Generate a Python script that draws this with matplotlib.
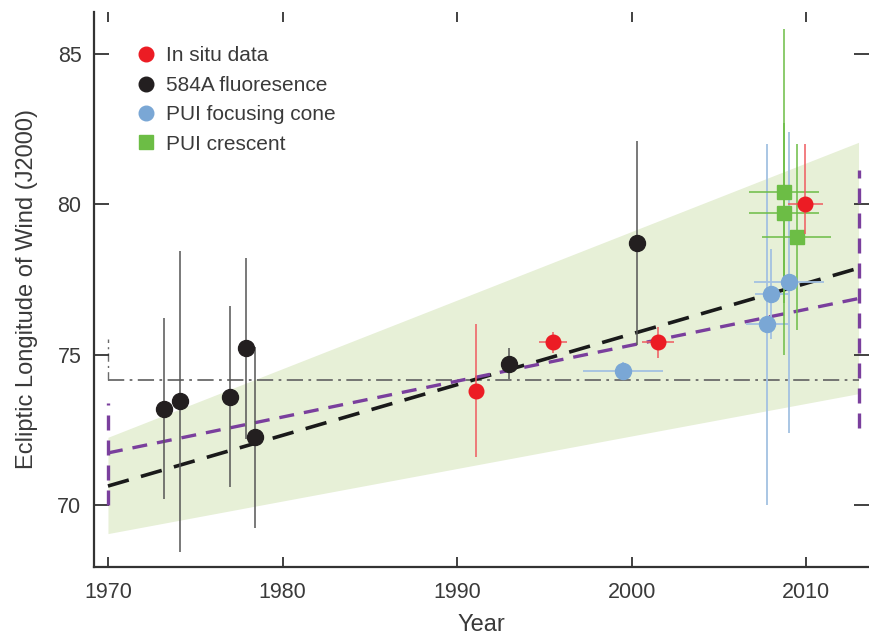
import matplotlib
matplotlib.use("Agg")
import matplotlib.pyplot as plt
from matplotlib.lines import Line2D
import numpy as np

plt.rcParams['font.family'] = ['Liberation Sans', 'DejaVu Sans']

# ---- data ----
# 584A fluorescence (black)
fl_year = [1973.2, 1974.1, 1977.0, 1977.9, 1978.4, 1993.0, 2000.3]
fl_val = [73.2, 73.45, 73.6, 75.2, 72.25, 74.7, 78.7]
fl_err = [3.0, 5.0, 3.0, 3.0, 3.0, 0.5, 3.4]

# In situ data (red)
is_year = [1991.1, 1995.5, 2001.5, 2009.95]
is_val = [73.8, 75.4, 75.4, 80.0]
is_yerr_lo = [2.2, 0.35, 0.5, 1.0]
is_yerr_hi = [2.2, 0.35, 0.5, 2.0]
is_xerr = [0.0, 0.8, 0.9, 1.0]

# PUI focusing cone (blue)
fc_year = [1999.5, 2007.75, 2008.0, 2009.0]
fc_val = [74.45, 76.0, 77.0, 77.4]
fc_yerr = [0.3, 6.0, 1.5, 5.0]
fc_xerr = [2.3, 1.2, 0.95, 2.0]

# PUI crescent (green)
cr_year = [2008.75, 2008.75, 2009.45]
cr_val = [80.4, 79.7, 78.9]
cr_yerr = [5.4, 3.0, 3.1]
cr_xerr = [2.0, 2.0, 2.0]

# fits and uncertainty band
fit_years = [1970, 2013]
band_lo = [69.05, 73.7]
band_hi = [72.25, 82.05]
fit_black = [70.63, 77.87]
fit_purple = [71.73, 76.86]
purple_range_1970 = [70.0, 73.4]
purple_range_2013 = [72.57, 81.13]
mean_level = 74.14
mean_range_1970 = [74.14, 75.5]

xticks = [1970, 1980, 1990, 2000, 2010]
yticks = [70, 75, 80, 85]

# ---- figure ----
W, H = 869, 637
fig = plt.figure(figsize=(W / 100, H / 100), dpi=100)
ax = fig.add_axes([94 / W, (H - 567) / H, (W - 94) / W, (567 - 12) / H])

band_col = '#e7f0d7'
ax.fill_between(fit_years, band_lo, band_hi, color=band_col, lw=0, zorder=0)

# horizontal dash-dot mean
ax.plot(fit_years, [mean_level, mean_level], color='#6a6a6a', lw=1.3,
        dashes=(9, 3, 1.5, 3), zorder=1)
ax.plot([fit_years[0]] * 2, mean_range_1970, color='#6a6a6a', lw=1.0,
        dashes=(6, 3, 1.5, 3), zorder=1)

# fit lines
ax.plot(fit_years, fit_black, color='#1a1a1a', lw=2.6, dashes=(6, 3.5), zorder=2)
purple = '#7a3f9d'
ax.plot(fit_years, fit_purple, color=purple, lw=2.4, dashes=(4.5, 3), zorder=2)
ax.plot([fit_years[0]] * 2, purple_range_1970, color=purple, lw=2.4,
        dashes=(4.5, 3), zorder=2)
ax.plot([fit_years[1]] * 2, purple_range_2013, color=purple, lw=2.4,
        dashes=(4.5, 3), zorder=2)

# data
ax.errorbar(fl_year, fl_val, yerr=fl_err, fmt='o', color='#231f20', ms=11.5,
            ecolor='#555555', elinewidth=1.1, capsize=0, zorder=4)
ax.errorbar(is_year, is_val, yerr=[is_yerr_lo, is_yerr_hi], xerr=is_xerr,
            fmt='o', color='#ec1c24', ms=10.5, ecolor='#ef5a5f', elinewidth=1.1,
            capsize=0, zorder=5)
ax.errorbar(fc_year, fc_val, yerr=fc_yerr, xerr=fc_xerr, fmt='o',
            color='#7aa7d5', ms=11.5, ecolor='#a3c1e2', elinewidth=1.3,
            capsize=0, zorder=4)
ax.errorbar(cr_year, cr_val, yerr=cr_yerr, xerr=cr_xerr, fmt='s',
            color='#6cbd45', ms=10, ecolor='#6cbd45', elinewidth=1.1,
            capsize=0, zorder=4)

ax.set_xlim(1969.2, 2013.6)
ax.set_ylim(67.94, 86.38)
ax.set_xticks(xticks)
ax.set_yticks(yticks)

txt = '#3a3a3a'
ax.tick_params(axis='both', direction='in', colors='#333333', labelcolor=txt,
               labelsize=15.5, width=1.3)
ax.tick_params(axis='y', length=11, pad=9, right=True)
ax.tick_params(axis='x', length=7, pad=11, top=True)
for sp in ['top', 'right']:
    ax.spines[sp].set_visible(False)
for sp in ['left', 'bottom']:
    ax.spines[sp].set_linewidth(1.6)
    ax.spines[sp].set_color('#333333')

ax.set_xlabel('Year', fontsize=17, color=txt, labelpad=8)
ax.set_ylabel('Ecliptic Longitude of Wind (J2000)', fontsize=17, color=txt,
              labelpad=14)

handles = [
    Line2D([], [], marker='o', ls='none', color='#ec1c24', ms=10.5),
    Line2D([], [], marker='o', ls='none', color='#231f20', ms=10.5),
    Line2D([], [], marker='o', ls='none', color='#7aa7d5', ms=10.5),
    Line2D([], [], marker='s', ls='none', color='#6cbd45', ms=10),
]
labels = ['In situ data', '584A fluoresence', 'PUI focusing cone', 'PUI crescent']
leg = ax.legend(handles, labels, loc='upper left', bbox_to_anchor=(0.056, 0.938),
                frameon=False, fontsize=15, handlelength=0.8,
                handletextpad=0.55, labelspacing=0.5, borderpad=0,
                borderaxespad=0)
for t in leg.get_texts():
    t.set_color(txt)

fig.savefig('out.png', dpi=100)
